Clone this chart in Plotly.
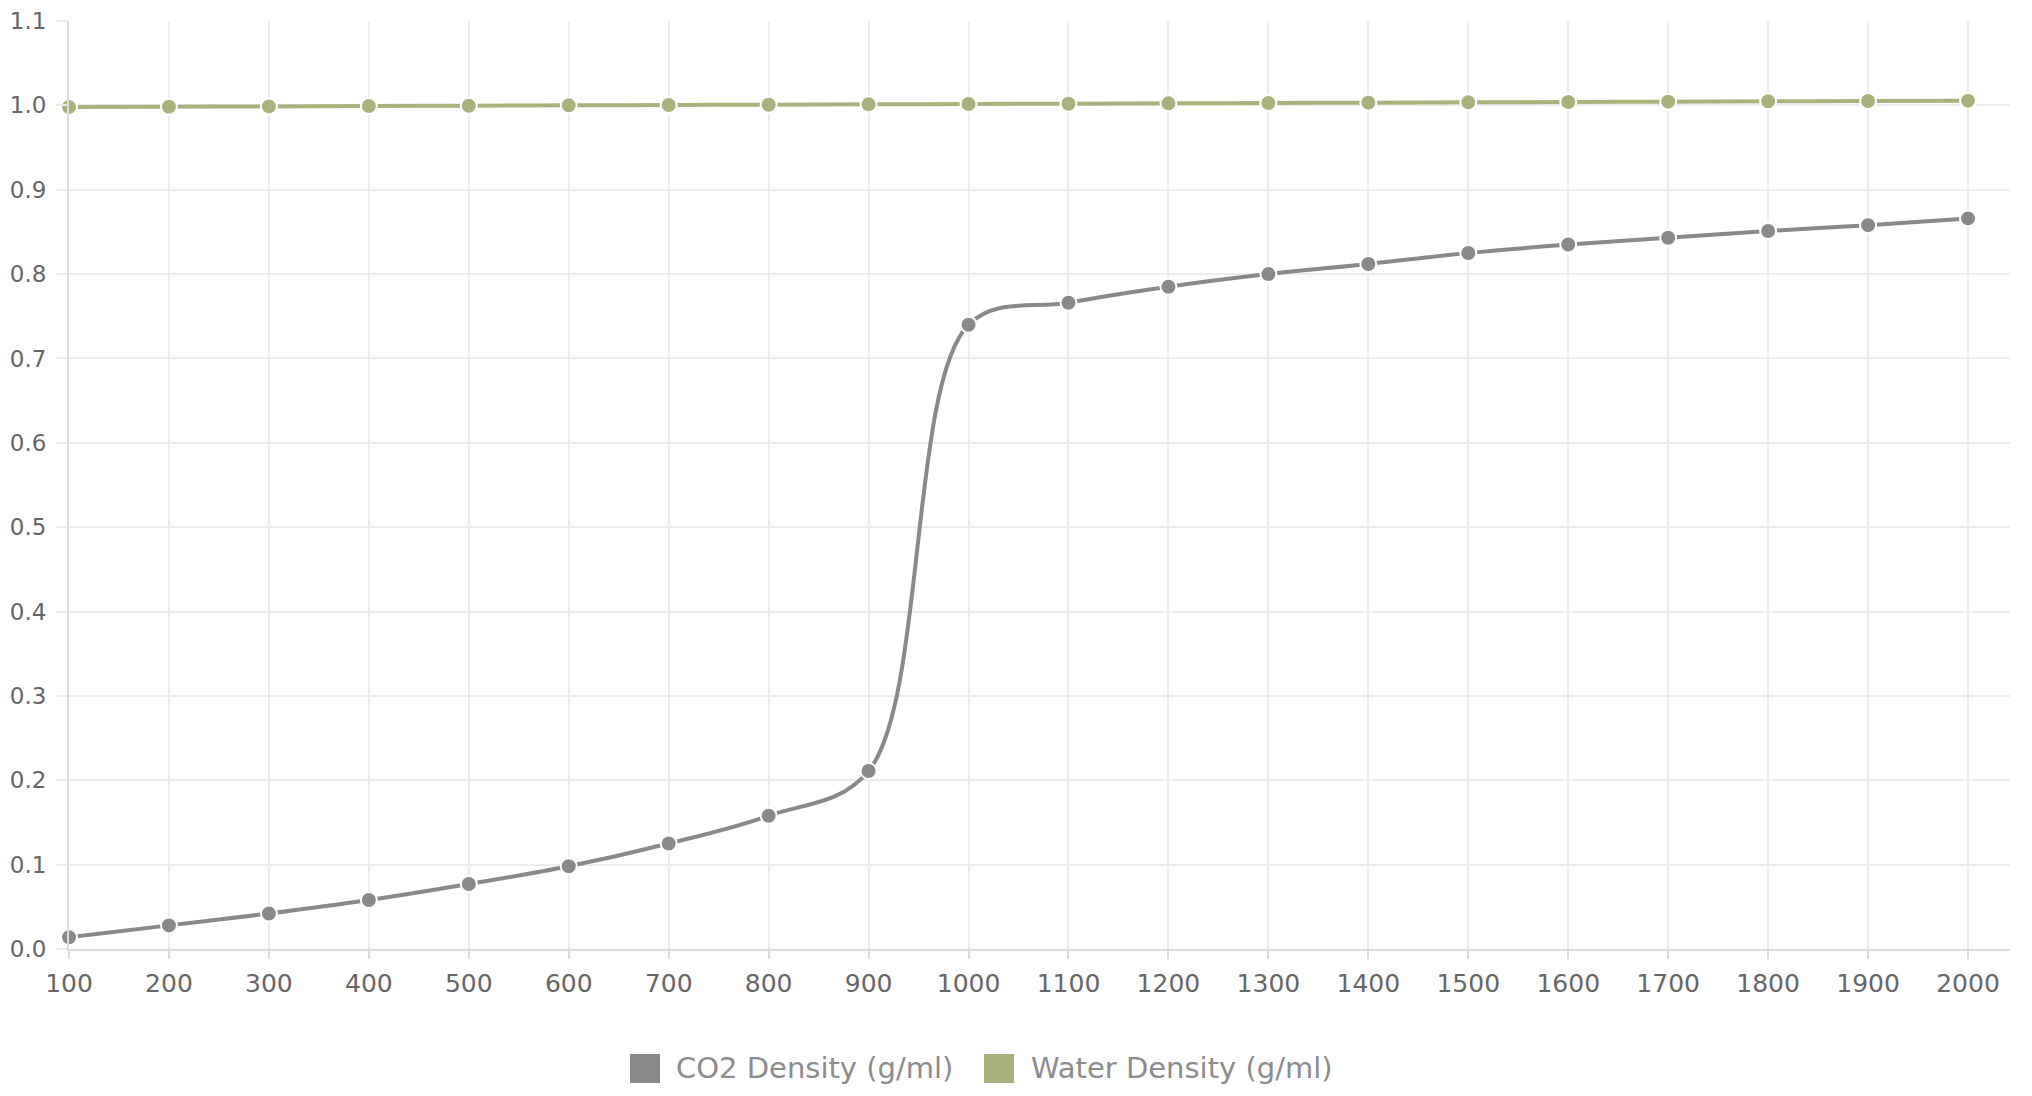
import plotly.graph_objects as go

pressure = [100, 200, 300, 400, 500, 600, 700, 800, 900, 1000,
            1100, 1200, 1300, 1400, 1500, 1600, 1700, 1800, 1900, 2000]
co2_density = [0.014, 0.028, 0.042, 0.058, 0.077, 0.098, 0.125, 0.158, 0.211, 0.740,
               0.766, 0.785, 0.800, 0.812, 0.825, 0.835, 0.843, 0.851, 0.858, 0.866]
water_density = [0.9980, 0.9984, 0.9988, 0.9992, 0.9996, 1.0000, 1.0004, 1.0008, 1.0012, 1.0016,
                 1.0020, 1.0024, 1.0028, 1.0032, 1.0036, 1.0040, 1.0044, 1.0048, 1.0052, 1.0056]
series_names = ["CO2 Density (g/ml)", "Water Density (g/ml)"]
y_ticks = [0.0, 0.1, 0.2, 0.3, 0.4, 0.5, 0.6, 0.7, 0.8, 0.9, 1.0, 1.1]
y_tick_labels = ["0.0", "0.1", "0.2", "0.3", "0.4", "0.5", "0.6", "0.7", "0.8", "0.9", "1.0", "1.1"]

GRAY = "#898989"
OLIVE = "#a8b37b"
FONT = "DejaVu Sans"

# page has an 8px body margin; figure is placed at (8, 8)
OFF = 8
W, H = 2032 - 2 * OFF, 1096 - 2 * OFF
# plot area in page coords: x 69..2010, y 21..949
L, T = 69 - OFF, 21 - OFF
R = (2032 - OFF) - 2010
B = (1096 - OFF) - 949
PW, PH = W - L - R, H - T - B


def px_x(p):
    return (p - OFF - L) / PW


def px_y(p):
    return (T + PH - (p - OFF)) / PH


fig = go.Figure()
for name, vals, col in [(series_names[0], co2_density, GRAY),
                        (series_names[1], water_density, OLIVE)]:
    fig.add_trace(go.Scatter(
        x=pressure, y=vals, name=name, mode="lines+markers",
        line=dict(color=col, width=4, shape="spline", smoothing=1.0),
        marker=dict(color=col, size=16, line=dict(color="white", width=2)),
        showlegend=False, cliponaxis=False,
    ))

shapes = []
annotations = []
legend_items = [(series_names[0], GRAY, 630, 660, 674),
                (series_names[1], OLIVE, 984, 1014, 1029)]
for name, col, sx0, sx1, tx in legend_items:
    shapes.append(dict(type="rect", xref="paper", yref="paper",
                       x0=px_x(sx0), x1=px_x(sx1), y0=px_y(1083), y1=px_y(1054),
                       fillcolor=col, line=dict(width=0)))
    annotations.append(dict(text=name, xref="paper", yref="paper",
                            x=px_x(tx), y=px_y(1068), xanchor="left", yanchor="middle",
                            showarrow=False, font=dict(family=FONT, size=29, color="#8c8c8c")))

fig.update_layout(
    width=W, height=H,
    margin=dict(l=L, r=R, t=T, b=B, autoexpand=False),
    paper_bgcolor="white", plot_bgcolor="white",
    shapes=shapes, annotations=annotations,
    xaxis=dict(range=[100, 2042], tickvals=pressure, ticktext=[str(p) for p in pressure],
               showgrid=True, gridcolor="#ececec", gridwidth=1.5,
               ticks="outside", ticklen=8, tickcolor="#dcdcdc", tickwidth=1.5,
               showline=True, linecolor="#dcdcdc", linewidth=2,
               zeroline=False, ticklabelstandoff=3,
               tickfont=dict(family=FONT, size=25, color="#666666")),
    yaxis=dict(range=[0, 1.1], tickvals=y_ticks, ticktext=y_tick_labels,
               showgrid=True, gridcolor="#ececec", gridwidth=1.5,
               ticks="outside", ticklen=11, tickcolor="#ececec", tickwidth=1.5,
               showline=True, linecolor="#dcdcdc", linewidth=2,
               zeroline=False, ticklabelstandoff=5,
               tickfont=dict(family=FONT, size=23, color="#666666")),
)

fig.write_html("out.html")
